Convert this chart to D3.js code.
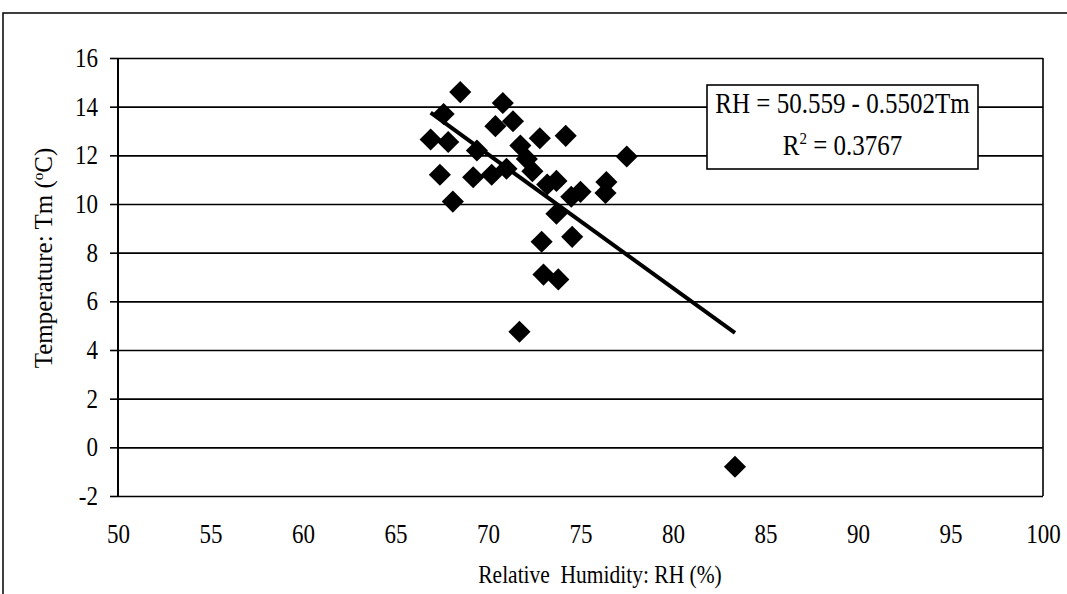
<!DOCTYPE html>
<meta charset="utf-8">
<style>
body { margin: 0; background: #fff; }
text { font-family: "Liberation Serif", "Times New Roman", serif; fill: #000; }
/* the scan is a little stretched vertically, so the text is too */
.tall { transform-box: fill-box; transform-origin: center; transform: scaleY(1.16); }
.grid line { stroke: #000; stroke-width: 1.6px; }
.grid path { display: none; }
.axis path { display: none; }
.axis line { stroke: #000; stroke-width: 1.6px; }
.axis text { font-size: 23px; }
.trend { fill: none; stroke: #000; stroke-width: 4px; }
</style>
<body>
<script src="https://d3js.org/d3.v7.min.js"></script>
<script>

// data: relative humidity (%) and temperature Tm (C)
var rh = [66.9, 67.4, 67.6, 67.85, 68.1, 68.5, 69.2, 69.4, 70.2, 70.4, 70.8,
          71.0, 71.35, 71.75, 72.1, 72.4, 71.7, 72.8, 72.9, 73.0, 73.2, 73.7,
          73.7, 73.8, 74.2, 74.55, 74.5, 75.0, 76.35, 76.4, 77.5, 83.35];
var tm = [12.65, 11.2, 13.7, 12.55, 10.1, 14.6, 11.1, 12.2, 11.2, 13.2, 14.15,
          11.45, 13.4, 12.4, 11.85, 11.35, 4.75, 12.7, 8.45, 7.1, 10.8, 10.95,
          9.6, 6.9, 12.8, 8.65, 10.3, 10.5, 10.45, 10.9, 11.95, -0.8];

// linear trend as printed on the chart
var trendIntercept = 50.559;
var trendSlope = -0.5502;
var eqLines = ["RH = 50.559 - 0.5502Tm", "R2 = 0.3767"];

var xTicks = [50, 55, 60, 65, 70, 75, 80, 85, 90, 95, 100];
var yTicks = [-2, 0, 2, 4, 6, 8, 10, 12, 14, 16];

var margin = {top: 58, right: 24, bottom: 98, left: 118},
    width = 1067 - margin.left - margin.right,
    height = 594 - margin.top - margin.bottom;

var svg = d3.select("body").append("svg")
    .attr("width", 1067)
    .attr("height", 594);

// outer chart frame (only top and left edges show in the scan)
svg.append("path")
    .attr("d", "M3,594V13H1067")
    .attr("fill", "none")
    .attr("stroke", "#000")
    .attr("stroke-width", 1.5);

var g = svg.append("g")
    .attr("transform", "translate(" + margin.left + "," + margin.top + ")");

var x = d3.scaleLinear().domain([50, 100]).range([0, width]);
var y = d3.scaleLinear().domain([-2, 16]).range([height, 0]);

// horizontal gridlines
g.append("g")
    .attr("class", "grid")
    .call(d3.axisLeft(y).tickValues(yTicks).tickSize(-width).tickFormat(""));

// plot frame: left axis and right edge
g.append("line")
    .attr("x1", 0).attr("x2", 0).attr("y1", 0).attr("y2", height)
    .attr("stroke", "#000").attr("stroke-width", 2);
g.append("line")
    .attr("x1", width).attr("x2", width).attr("y1", 0).attr("y2", height)
    .attr("stroke", "#000").attr("stroke-width", 1.6);

// y axis (plain hyphen for negatives, like the original)
g.append("g")
    .attr("class", "axis")
    .call(d3.axisLeft(y).tickValues(yTicks).tickSize(8).tickPadding(12).tickFormat(String))
  .selectAll("text")
    .attr("class", "tall");

// x axis (labels only)
g.append("g")
    .attr("class", "axis")
    .attr("transform", "translate(0," + height + ")")
    .call(d3.axisBottom(x).tickValues(xTicks).tickSize(0).tickPadding(29).tickFormat(String))
  .selectAll("text")
    .attr("class", "tall");

// points
var points = rh.map(function(d, i) { return [d, tm[i]]; });
var diamond = d3.symbol().type(d3.symbolSquare).size(245);
g.selectAll(".pt")
    .data(points)
  .enter().append("path")
    .attr("class", "pt")
    .attr("d", diamond)
    .attr("fill", "#000")
    .attr("transform", function(d) {
      return "translate(" + x(d[0]) + "," + y(d[1]) + ") rotate(45)";
    });

// trend line over the data range
var ext = d3.extent(rh);
var trend = ext.map(function(v) { return [v, trendIntercept + trendSlope * v]; });
g.append("path")
    .datum(trend)
    .attr("class", "trend")
    .attr("d", d3.line()
      .x(function(d) { return x(d[0]); })
      .y(function(d) { return y(d[1]); }));

// equation box
var box = svg.append("g").attr("transform", "translate(707,85)");
box.append("rect")
    .attr("width", 271).attr("height", 84)
    .attr("fill", "#fff").attr("stroke", "#000").attr("stroke-width", 1.6);
box.append("text")
    .attr("class", "tall")
    .attr("x", 135.5).attr("y", 27)
    .attr("text-anchor", "middle")
    .style("font-size", "25px")
    .text(eqLines[0]);
var r2 = box.append("text")
    .attr("class", "tall")
    .attr("x", 135.5).attr("y", 69)
    .attr("text-anchor", "middle")
    .style("font-size", "25px");
r2.append("tspan").text("R");
r2.append("tspan").attr("dy", -10).style("font-size", "15px").text("2");
r2.append("tspan").attr("dy", 10).text(eqLines[1].slice(2));

// axis titles
svg.append("text")
    .attr("class", "tall")
    .attr("x", 600).attr("y", 582)
    .attr("text-anchor", "middle")
    .style("font-size", "21.5px")
    .style("white-space", "pre")
    .text("Relative  Humidity: RH (%)");

var yt = svg.append("text")
    .attr("transform", "translate(52,258) rotate(-90)")
    .attr("text-anchor", "middle")
    .style("font-size", "25px");
yt.append("tspan").text("Temperature: Tm (");
yt.append("tspan").attr("dy", -9).style("font-size", "15px").text("o");
yt.append("tspan").attr("dy", 9).text("C)");

</script>
</body>
